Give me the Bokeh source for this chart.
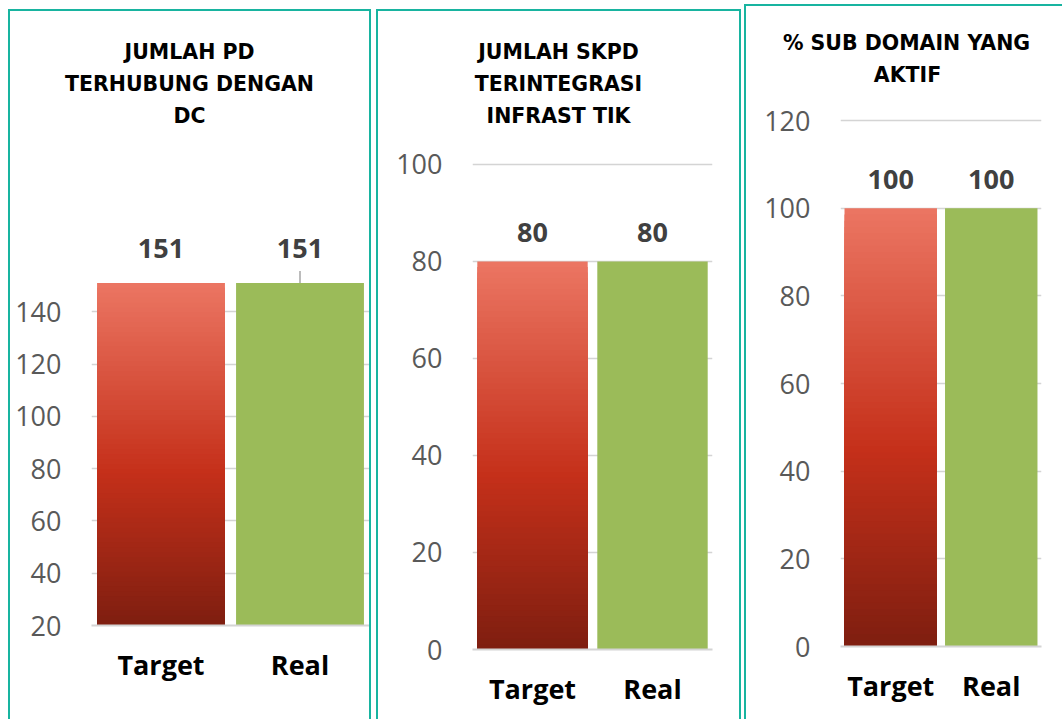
from bokeh.plotting import figure
from bokeh.models import Range1d, FactorRange, FixedTicker, Title, ColumnDataSource
from bokeh.core.properties import value
from bokeh.embed import file_html
from bokeh.resources import INLINE

# ---------------- data ----------------
categories = ["Target", "Real"]
titles = [["JUMLAH PD", "TERHUBUNG DENGAN", "DC"],
          ["JUMLAH SKPD", "TERINTEGRASI", "INFRAST TIK"],
          ["% SUB DOMAIN YANG", "AKTIF"]]
target_values = [151, 80, 100]
real_values = [151, 80, 100]
y_ticks = [[20, 40, 60, 80, 100, 120, 140],
           [0, 20, 40, 60, 80, 100],
           [0, 20, 40, 60, 80, 100, 120]]
y_min = [20, 0, 0]
y_max = [209.3, 107.0, 127.1]

# ---------------- style ----------------
TEAL = "#18B4A0"
GREEN = "#9BBB59"
GRID = "#D4D4D4"
STOPS = [(0.0, (0xEC, 0x76, 0x63)), (0.55, (0xC5, 0x30, 0x1A)), (1.0, (0x7E, 0x1E, 0x10))]
N_SLICES = 70
BORDER = "2px solid " + TEAL
TITLE_FONT = "DejaVu Sans"
TITLE_SIZE = 20.5
# approximate advance widths (em) of DejaVu Sans Bold, used only to centre each title line
EM = {" ": 0.348, "%": 1.002, "A": 0.774, "B": 0.762, "C": 0.734, "D": 0.830, "E": 0.683,
      "F": 0.683, "G": 0.821, "H": 0.837, "I": 0.372, "J": 0.372, "K": 0.776, "L": 0.637,
      "M": 0.995, "N": 0.837, "O": 0.850, "P": 0.733, "R": 0.770, "S": 0.720, "T": 0.682,
      "U": 0.812, "Y": 0.724}

layout = [
    dict(w=363, h=710, mbl=81, mbr=4, mbt=119, mbb=96, tcx=98, loff=34, leader=True,
         css={"margin-left": "8px", "margin-top": "9px", "border-left": BORDER,
              "border-top": BORDER, "border-right": BORDER}),
    dict(w=365, h=710, mbl=94, mbr=31, mbt=119, mbb=72, tcx=86, loff=29, leader=False,
         css={"margin-left": "5px", "margin-top": "9px", "border-left": BORDER,
              "border-top": BORDER, "border-right": BORDER}),
    dict(w=318, h=715, mbl=94, mbr=23, mbt=83, mbb=75, tcx=67, loff=29, leader=False,
         css={"margin-left": "3px", "margin-top": "4px", "border-left": BORDER,
              "border-top": BORDER}),
]


def grad(t):
    for (t0, c0), (t1, c1) in zip(STOPS[:-1], STOPS[1:]):
        if t0 <= t <= t1:
            f = (t - t0) / (t1 - t0)
            c = [round(a + (b - a) * f) for a, b in zip(c0, c1)]
            return "#%02x%02x%02x" % tuple(c)
    return "#%02x%02x%02x" % STOPS[-1][1]


def text_width(s):
    return sum(EM.get(ch, 0.7) for ch in s) * TITLE_SIZE


figs = []
for i, cfg in enumerate(layout):
    p = figure(width=cfg["w"], height=cfg["h"], x_range=FactorRange(*categories, range_padding=0),
               y_range=Range1d(y_min[i], y_max[i]), output_backend="svg", toolbar_location=None,
               title=None,
               min_border_left=cfg["mbl"], min_border_right=cfg["mbr"],
               min_border_top=cfg["mbt"], min_border_bottom=cfg["mbb"], styles=cfg["css"])
    p.outline_line_color = None
    p.background_fill_color = "white"
    p.border_fill_color = "white"

    # gradient target bar (stacked slices, tallest first)
    base = y_min[i]
    top = target_values[i]
    tops, cols = [], []
    for k in range(N_SLICES):
        tops.append(top - (top - base) * k / N_SLICES)
        cols.append(grad((k + 0.5) / N_SLICES))
    src = ColumnDataSource(dict(x=[categories[0]] * N_SLICES, top=tops, bottom=[base] * N_SLICES, c=cols))
    p.vbar(x="x", top="top", bottom="bottom", width=0.92, fill_color="c", line_color=None, source=src)

    # real bar
    p.vbar(x=[categories[1]], top=[real_values[i]], bottom=base, width=0.92,
           fill_color=GREEN, line_color=None)

    if cfg["leader"]:
        p.segment(x0=[categories[1]], y0=[real_values[i]], x1=[categories[1]],
                  y1=[real_values[i] + 4.6], line_color="#A6A6A6", line_width=1.5)

    # value labels
    p.text(x=categories, y=[target_values[i], real_values[i]],
           text=[str(target_values[i]), str(real_values[i])],
           text_font=value("Open Sans"), text_font_style="bold", text_font_size="27px",
           text_color="#404040", text_align="center", text_baseline="middle",
           y_offset=-cfg["loff"])

    # title, one line per Title (first added sits closest to the plot)
    for line in reversed(titles[i]):
        p.add_layout(Title(text=line, align="left", offset=cfg["tcx"] - text_width(line) / 2,
                           text_font=TITLE_FONT, text_font_style="bold",
                           text_font_size="%gpx" % TITLE_SIZE, text_color="#000000",
                           standoff=6), "above")

    # axes
    p.yaxis.ticker = FixedTicker(ticks=y_ticks[i])
    p.yaxis.axis_line_color = None
    p.yaxis.major_tick_line_color = None
    p.yaxis.minor_tick_line_color = None
    p.yaxis.major_tick_out = 0
    p.yaxis.minor_tick_out = 0
    p.yaxis.major_label_standoff = 30
    p.yaxis.major_label_text_font = "Open Sans"
    p.yaxis.major_label_text_font_size = "27px"
    p.yaxis.major_label_text_color = "#595959"

    p.xaxis.axis_line_color = GRID
    p.xaxis.axis_line_width = 2
    p.xaxis.major_tick_line_color = None
    p.xaxis.minor_tick_line_color = None
    p.xaxis.major_tick_out = 0
    p.xaxis.major_label_standoff = 20
    p.xaxis.major_label_text_font = "Open Sans"
    p.xaxis.major_label_text_font_style = "bold"
    p.xaxis.major_label_text_font_size = "27px"
    p.xaxis.major_label_text_color = "#000000"

    p.xgrid.grid_line_color = None
    p.ygrid.ticker = FixedTicker(ticks=y_ticks[i])
    p.ygrid.grid_line_color = GRID
    p.ygrid.grid_line_width = 1.5
    figs.append(p)

template = """
{% block postamble %}
<style>
html, body { overflow: hidden; }
body { display: flex !important; flex-direction: row; align-items: flex-start; }
</style>
{% endblock %}
"""

open("out.html", "w").write(file_html(figs, INLINE, template=template))
